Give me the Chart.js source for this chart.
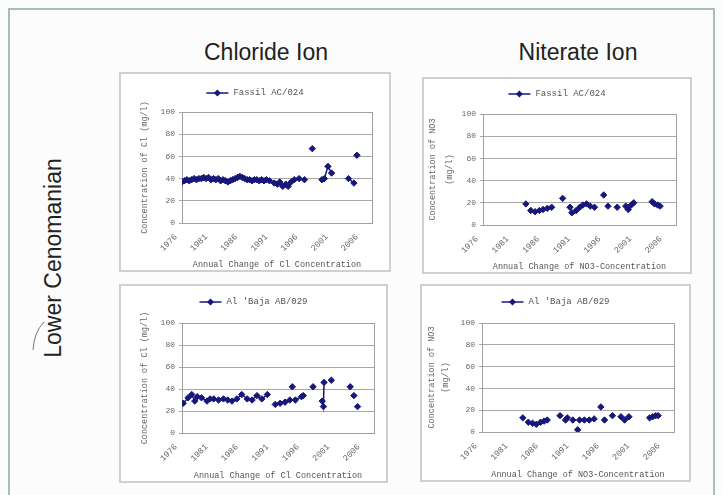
<!DOCTYPE html>
<html>
<head>
<meta charset="utf-8">
<script src="https://cdn.jsdelivr.net/npm/chart.js@4.4.1/dist/chart.umd.min.js"></script>
<style>
html,body{margin:0;padding:0;background:#fbfcfb;}
body{width:722px;height:495px;position:relative;overflow:hidden;font-family:"Liberation Sans",Arial,sans-serif;}
.frame{position:absolute;left:8px;top:8px;width:707px;height:500px;border:2px solid #a9bcbc;box-sizing:border-box;}
.head{position:absolute;top:39px;font-size:23px;line-height:26px;color:#222;transform:translateX(-50%);white-space:nowrap;}
.side{position:absolute;left:53px;top:258px;font-size:23px;line-height:26px;color:#222;transform:translate(-50%,-50%) rotate(-90deg);white-space:nowrap;}
.panel{position:absolute;border:2px solid #d0d0d0;box-sizing:border-box;background:#fff;}
.panel canvas{position:absolute;left:0;top:0;}
.arc{position:absolute;left:30px;top:320px;}
</style>
</head>
<body>
<div class="frame"></div>
<div class="head" style="left:266px">Chloride Ion</div>
<div class="head" style="left:578px">Niterate Ion</div>
<div class="side">Lower Cenomanian</div>
<svg class="arc" width="20" height="32"><path d="M14 2 Q4 12 3 30" stroke="#777" fill="none" stroke-width="1"/></svg>

<div class="panel" style="left:119px;top:72px;width:272px;height:200px"><canvas id="c1" width="268" height="196"></canvas></div>
<div class="panel" style="left:422px;top:77px;width:270px;height:197px"><canvas id="c2" width="266" height="193"></canvas></div>
<div class="panel" style="left:119px;top:284px;width:269px;height:199px"><canvas id="c3" width="265" height="195"></canvas></div>
<div class="panel" style="left:420px;top:284px;width:271px;height:198px"><canvas id="c4" width="267" height="194"></canvas></div>

<script>
// x tick labels (years) and y ticks
const xTickYears = [1976, 1981, 1986, 1991, 1996, 2001, 2006];
const yTicks = [0, 20, 40, 60, 80, 100];

// Chloride - Fassil AC/024
const clFassilYears = [1976.0,1976.4,1976.8,1977.2,1977.6,1978.0,1978.4,1978.8,1979.2,1979.6,1980.0,1980.4,1980.8,1981.2,1981.6,1982.0,1982.4,1982.8,1983.2,1983.6,1984.0,1984.4,1984.8,1985.2,1985.6,1986.0,1986.4,1986.8,1987.2,1987.6,1988.0,1988.4,1988.8,1989.2,1989.6,1990.0,1990.5,
  1991.3,1991.8,1992.2,1992.7,1993.2,1993.6,1994.1,1994.6,1995.4,1996.3,
  1997.6,
  1999.2,1999.6,2000.2,2000.8,
  2003.6,2004.5,
  2005.0];
const clFassilValues = [37,38,39,38,39,40,39,40,40,41,40,41,39,40,39,40,38,39,38,37,38,39,40,41,42,41,40,39,39,38,39,39,38,39,38,39,38,
  36,35,37,33,35,33,37,39,40,39,
  67,
  39,40,51,45,
  40,36,
  61];
const clFassilRuns = [37, 47, 48, 52, 54];

// Nitrate - Fassil AC/024
const no3FassilYears = [1983.0, 1983.8,1984.5,1985.2,1985.8,1986.5,1987.2, 1989.0, 1990.2,1990.5,1991.2,1991.8,1992.3,1992.9,1993.5,1994.2, 1995.7, 1996.4, 1997.9, 1999.3,1999.7,2000.2,2000.6, 2003.6,2004.0,2004.5,2004.9];
const no3FassilValues = [19, 13,12,13,14,15,16, 24, 16,11,13,16,18,19,17,16, 27, 17, 16, 17,14,18,20, 21,19,18,17];
const no3FassilRuns = [1, 7, 8, 16, 17, 18, 19, 23];

// Chloride - Al 'Baja AB/029
const clBajaYears = [1976.2,1977.0,1977.6,1978.1,1978.5,1979.2,1980.1,1980.6,1981.2,1982.0,1982.8,1983.5,1984.2,1985.0,1985.8,1986.7,1987.5,1988.3,1989.1,1990.0,
  1991.3,1992.1,1992.9,1993.7,
  1994.1,
  1994.6,1995.6,1995.9,
  1997.5,
  1999.0,1999.2,1999.3,
  2000.5,
  2003.6,2004.2,2004.8];
const clBajaValues = [27,32,35,29,33,32,29,31,31,30,31,30,29,31,35,31,30,34,31,35,
  26,27,28,30,
  42,
  30,33,34,
  42,
  29,24,46,
  48,
  42,34,24];
const clBajaRuns = [20, 24, 25, 28, 29, 32, 33, 34, 35];

// Nitrate - Al 'Baja AB/029
const no3BajaYears = [1982.7, 1983.6,1984.3,1984.9,1985.6,1986.2,1986.7, 1988.8, 1989.7,1990.0, 1990.9, 1991.7, 1992.0,1992.8,1993.6,1994.4, 1995.5, 1996.1, 1997.4, 1998.8,1999.4,2000.1, 2003.5,2004.0,2004.5,2004.9];
const no3BajaValues = [13, 9,8,7,9,10,11, 15, 11,13, 11, 2, 11,11,11,12, 23, 11, 15, 14,11,14, 13,14,15,15];
const no3BajaRuns = [1, 7, 8, 10, 11, 12, 16, 17, 18, 19, 22];

const NAVY = '#17177a';
const MONO = '"Liberation Mono","DejaVu Sans Mono",monospace';

// excel style plot box
const plotFrame = {
  id: 'plotFrame',
  beforeDatasetsDraw(chart) {
    const a = chart.chartArea, ctx = chart.ctx;
    ctx.save();
    ctx.strokeStyle = '#a0a0a0';
    ctx.lineWidth = 1;
    ctx.strokeRect(Math.round(a.left) + 0.5, Math.round(a.top) + 0.5, Math.round(a.right - a.left), Math.round(a.bottom - a.top));
    ctx.restore();
  }
};

// legend drawn as line-with-marker like the excel key
const seriesKey = {
  id: 'seriesKey',
  afterDraw(chart, args, opts) {
    const ctx = chart.ctx, label = chart.data.datasets[0].label;
    ctx.save();
    ctx.font = '9px ' + MONO;
    const tw = ctx.measureText(label).width;
    const x = chart.width / 2 - (27 + tw) / 2 + (opts.dx || 0), y = opts.y;
    ctx.strokeStyle = NAVY; ctx.lineWidth = 1.5;
    ctx.beginPath(); ctx.moveTo(x, y); ctx.lineTo(x + 22, y); ctx.stroke();
    ctx.fillStyle = NAVY;
    ctx.beginPath(); ctx.moveTo(x + 11, y - 3.5); ctx.lineTo(x + 14.5, y); ctx.lineTo(x + 11, y + 3.5); ctx.lineTo(x + 7.5, y); ctx.closePath(); ctx.fill();
    ctx.fillStyle = '#555'; ctx.textBaseline = 'middle'; ctx.textAlign = 'left';
    ctx.fillText(label, x + 27, y);
    ctx.restore();
  }
};

function makeChart(id, label, years, values, runs, yTitle, xTitle, lay) {
  const pts = years.map((x, i) => ({x: x, y: values[i]}));
  return new Chart(document.getElementById(id), {
    type: 'line',
    data: {datasets: [{
      label: label, data: pts,
      borderColor: NAVY, backgroundColor: NAVY, borderWidth: 1.5,
      pointStyle: 'rectRot', pointRadius: 3.2, pointBackgroundColor: NAVY, pointBorderColor: NAVY, pointBorderWidth: 1,
      tension: 0,
      segment: {borderColor: c => runs.includes(c.p1DataIndex) ? 'rgba(0,0,0,0)' : NAVY}
    }]},
    options: {
      responsive: false, animation: false, events: [],
      layout: {padding: lay.pad},
      plugins: {legend: {display: false}, tooltip: {enabled: false}, seriesKey: {y: lay.keyY}},
      scales: {
        x: {
          type: 'linear', min: 1976, max: 2007.5,
          afterBuildTicks: s => { s.ticks = xTickYears.map(v => ({value: v})); },
          afterFit: s => { s.height = lay.xH; },
          grid: {display: false, drawTicks: false},
          border: {color: '#a0a0a0'},
          ticks: {autoSkip: false, minRotation: 45, maxRotation: 45, padding: lay.xPad, labelOffset: -6, color: '#666',
                  font: {family: MONO, size: 8.5}, callback: v => String(v)},
          title: {display: true, text: xTitle, color: '#555', padding: 0, font: {family: MONO, size: 8.5}}
        },
        y: {
          min: 0, max: 100,
          afterBuildTicks: s => { s.ticks = yTicks.map(v => ({value: v})); },
          afterFit: s => { s.width = lay.yW; },
          grid: {color: '#a8a8a8', tickLength: 3, drawTicks: true},
          border: {color: '#a0a0a0'},
          ticks: {padding: 4, color: '#666', font: {family: MONO, size: 8}},
          title: {display: true, text: yTitle, color: '#666', padding: {top: lay.yTitlePad, bottom: 0},
                  font: {family: MONO, size: 8.5, lineHeight: lay.yLH || 1.2}}
        }
      }
    },
    plugins: [plotFrame, seriesKey]
  });
}

makeChart('c1', 'Fassil AC/024', clFassilYears, clFassilValues, clFassilRuns,
  'Concentration of Cl (mg/l)', 'Annual Change of Cl Concentration',
  {pad: {left: 10, right: 17, top: 38, bottom: 0}, xH: 47, yW: 51, yTitlePad: 9, xPad: 9, keyY: 19});
makeChart('c2', 'Fassil AC/024', no3FassilYears, no3FassilValues, no3FassilRuns,
  ['Concentration of NO3', '(mg/l)'], 'Annual Change of NO3-Concentration',
  {pad: {left: 0, right: 14, top: 35, bottom: 0}, xH: 47, yW: 59, yTitlePad: 0, yLH: 2, xPad: 9, keyY: 15});
makeChart('c3', "Al 'Baja AB/029", clBajaYears, clBajaValues, clBajaRuns,
  'Concentration of Cl (mg/l)', 'Annual Change of Cl Concentration',
  {pad: {left: 10, right: 12, top: 37, bottom: 0}, xH: 48, yW: 51, yTitlePad: 9, xPad: 9, keyY: 16});
makeChart('c4', "Al 'Baja AB/029", no3BajaYears, no3BajaValues, no3BajaRuns,
  ['Concentration of NO3', '(mg/l)'], 'Annual Change of NO3-Concentration',
  {pad: {left: 3, right: 15, top: 37, bottom: 0}, xH: 48, yW: 57, yTitlePad: 0, yLH: 1.6, xPad: 9, keyY: 16});
</script>
</body>
</html>
